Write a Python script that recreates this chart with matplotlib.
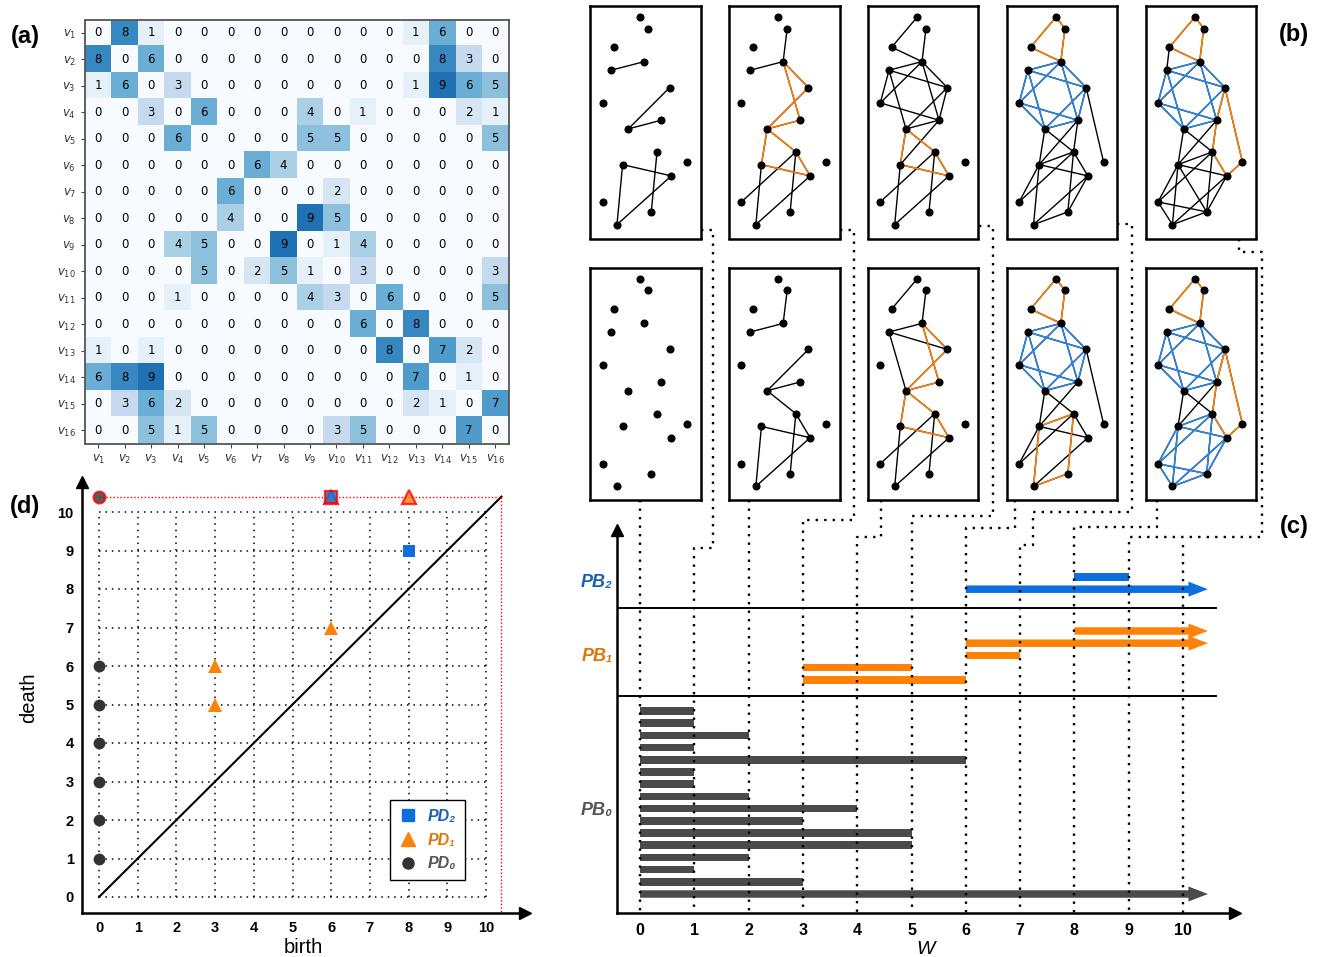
import numpy as np
import matplotlib.pyplot as plt
from matplotlib.lines import Line2D
from matplotlib.patches import FancyArrow

FIG_W, FIG_H = 1323, 957
SANS = "Liberation Sans"

# weighted adjacency matrix of the network
weights = np.array([
    [0, 8, 1, 0, 0, 0, 0, 0, 0, 0, 0, 0, 1, 6, 0, 0],
    [8, 0, 6, 0, 0, 0, 0, 0, 0, 0, 0, 0, 0, 8, 3, 0],
    [1, 6, 0, 3, 0, 0, 0, 0, 0, 0, 0, 0, 1, 9, 6, 5],
    [0, 0, 3, 0, 6, 0, 0, 0, 4, 0, 1, 0, 0, 0, 2, 1],
    [0, 0, 0, 6, 0, 0, 0, 0, 5, 5, 0, 0, 0, 0, 0, 5],
    [0, 0, 0, 0, 0, 0, 6, 4, 0, 0, 0, 0, 0, 0, 0, 0],
    [0, 0, 0, 0, 0, 6, 0, 0, 0, 2, 0, 0, 0, 0, 0, 0],
    [0, 0, 0, 0, 0, 4, 0, 0, 9, 5, 0, 0, 0, 0, 0, 0],
    [0, 0, 0, 4, 5, 0, 0, 9, 0, 1, 4, 0, 0, 0, 0, 0],
    [0, 0, 0, 0, 5, 0, 2, 5, 1, 0, 3, 0, 0, 0, 0, 3],
    [0, 0, 0, 1, 0, 0, 0, 0, 4, 3, 0, 6, 0, 0, 0, 5],
    [0, 0, 0, 0, 0, 0, 0, 0, 0, 0, 6, 0, 8, 0, 0, 0],
    [1, 0, 1, 0, 0, 0, 0, 0, 0, 0, 0, 8, 0, 7, 2, 0],
    [6, 8, 9, 0, 0, 0, 0, 0, 0, 0, 0, 0, 7, 0, 1, 0],
    [0, 3, 6, 2, 0, 0, 0, 0, 0, 0, 0, 0, 2, 1, 0, 7],
    [0, 0, 5, 1, 5, 0, 0, 0, 0, 3, 5, 0, 0, 0, 7, 0],
])
vertex_labels = [r"$v_{%d}$" % (i + 1) for i in range(16)]

# node layout inside a snapshot box (box units, y grows downward), v1..v16
node_x = [26.7, 12.3, 32.3, 38.0, 12.3, 49.3, 58.0, 23.7, 21.0, 54.0, 79.3, 96.7, 81.0, 61.0, 66.7, 71.0]
node_y = [218.7, 196.0, 158.7, 123.0, 97.0, 11.0, 22.7, 41.3, 64.3, 55.7, 81.7, 156.0, 170.0, 206.0, 146.0, 114.3]

# filtration value of every snapshot box
top_levels = [1, 3, 5, 7, 9]
bottom_levels = [0, 2, 4, 6, 8]

# representative 1-cycles (vertex loops) and 2-cycles (vertex sets), 1-based
upper_oct = [4, 5, 9, 10, 11, 16]
lower_oct = [1, 2, 3, 13, 14, 15]
cycles_1 = {
    3: [[10, 11, 4, 16], [4, 3, 13, 15]],
    4: [[10, 11, 4, 16], [4, 3, 13, 15]],
    5: [[4, 3, 13, 15]],
    6: [[6, 7, 10, 8], [3, 15, 14, 1]],
    7: [[6, 7, 10, 8]],
    8: [[6, 7, 10, 8], [11, 12, 13, 15, 16]],
    9: [[6, 7, 10, 8], [11, 12, 13, 15, 16]],
}
cycles_2 = {6: [upper_oct], 7: [upper_oct], 8: [upper_oct, lower_oct], 9: [upper_oct]}

# persistence barcodes (top to bottom)
pb0_birth = [0] * 16
pb0_death = [1, 1, 2, 1, 6, 1, 1, 2, 4, 3, 5, 5, 2, 1, 3, np.inf]
pb1_birth = [8, 6, 6, 3, 3]
pb1_death = [np.inf, np.inf, 7, 5, 6]
pb2_birth = [8, 6]
pb2_death = [9, np.inf]

BLUE = "#0d6fde"
BLUE_EDGE = "#2a86e8"
ORANGE = "#ff8208"
GRAY = "#4a4a4a"
DARK = "#333333"
BLUE_TXT = "#1a5fb4"
ORANGE_TXT = "#e0760a"
GRAY_TXT = "#555555"

fig = plt.figure(figsize=(FIG_W / 100, FIG_H / 100), dpi=100)


def px_axes(left, top, right, bottom, **kw):
    return fig.add_axes([left / FIG_W, 1 - bottom / FIG_H,
                         (right - left) / FIG_W, (bottom - top) / FIG_H], **kw)


# ---------------- (a) adjacency heatmap ----------------
ax_a = px_axes(85, 19.5, 508.5, 443.5)
ax_a.imshow(weights, cmap="Blues", vmin=0, vmax=12, aspect="auto")
for i in range(16):
    for j in range(16):
        ax_a.text(j, i, str(weights[i, j]), ha="center", va="center", fontsize=8.5)
ax_a.set_xticks(range(16))
ax_a.set_yticks(range(16))
ax_a.set_xticklabels(vertex_labels, fontsize=8.5, color="#333333")
ax_a.set_yticklabels(vertex_labels, fontsize=8.5, color="#333333")
ax_a.tick_params(length=3, color="#444444")
for s in ax_a.spines.values():
    s.set_color("#555555")
    s.set_linewidth(1.3)

# ---------------- (b) filtration snapshots ----------------
BOX_W, BOX_H = 110.4, 232.6


def draw_snapshot(ax, level):
    n = len(node_x)
    for i in range(n):
        for j in range(i + 1, n):
            if 0 < weights[i, j] <= level:
                ax.plot([node_x[i], node_x[j]], [node_y[i], node_y[j]], color="k", lw=1.0, zorder=1)
    for group in cycles_2.get(level, []):
        for a in group:
            for b in group:
                if a < b and 0 < weights[a - 1, b - 1] <= level:
                    ax.plot([node_x[a - 1], node_x[b - 1]], [node_y[a - 1], node_y[b - 1]],
                            color=BLUE_EDGE, lw=1.1, zorder=2)
    for loop in cycles_1.get(level, []):
        for a, b in zip(loop, loop[1:] + loop[:1]):
            ax.plot([node_x[a - 1], node_x[b - 1]], [node_y[a - 1], node_y[b - 1]],
                    color=ORANGE, lw=1.1, zorder=3)
    ax.plot(node_x, node_y, "o", color="k", ms=4.8, zorder=4)
    ax.set_xlim(0, BOX_W)
    ax.set_ylim(BOX_H, 0)
    ax.set_xticks([])
    ax.set_yticks([])
    for s in ax.spines.values():
        s.set_linewidth(1.8)


for k, (lt, lb) in enumerate(zip(top_levels, bottom_levels)):
    left = 590.3 + k * 138.85
    draw_snapshot(px_axes(left, 5.9, left + BOX_W, 5.9 + BOX_H), lt)
    draw_snapshot(px_axes(left, 267.7, left + BOX_W, 267.7 + BOX_H), lb)

# ---------------- (c) persistence barcode ----------------
X_UNIT = 54.3
ax_c = px_axes(617, 530, 1235, 913)
ax_c.patch.set_alpha(0)
ax_c.set_xlim(-23 / X_UNIT, 595 / X_UNIT)
ax_c.set_ylim(0, 383)
INF_END = 10.46
ROW = 12.2


def draw_bar(ax, b, d, y, color):
    if np.isinf(d):
        ax.add_patch(FancyArrow(b, y, INF_END - b, 0, width=7.5, head_width=15, head_length=0.36,
                                length_includes_head=True, color=color, lw=0, zorder=3))
    else:
        ax.barh(y, d - b, left=b, height=7.5, color=color, zorder=3)


for k, (b, d) in enumerate(zip(pb0_birth, pb0_death)):
    draw_bar(ax_c, b, d, 202 - k * ROW, GRAY)
for k, (b, d) in enumerate(zip(pb1_birth, pb1_death)):
    draw_bar(ax_c, b, d, 282 - k * ROW, ORANGE)
for k, (b, d) in enumerate(zip(pb2_birth, pb2_death)):
    draw_bar(ax_c, b, d, 336 - k * ROW, BLUE)

x_lo = ax_c.get_xlim()[0]
for yy in (305, 217):
    ax_c.plot([x_lo, 10.61], [yy, yy], color="k", lw=1.4, zorder=2)

for txt, yy, col in (("PB₂", 331, BLUE_TXT), ("PB₁", 257, ORANGE_TXT), ("PB₀", 103, GRAY_TXT)):
    ax_c.text(-0.5, yy, txt, ha="right", va="center", fontsize=13, fontweight="bold",
              fontstyle="italic", color=col, family=SANS, clip_on=False)

for side in ("top", "right"):
    ax_c.spines[side].set_visible(False)
for side in ("left", "bottom"):
    ax_c.spines[side].set_linewidth(1.8)
ax_c.plot(1, 0, ">k", ms=9, transform=ax_c.transAxes, clip_on=False)
ax_c.plot(0, 1, "^k", ms=9, transform=ax_c.transAxes, clip_on=False)
ax_c.set_xticks(range(11))
ax_c.set_xticklabels([str(v) for v in range(11)], fontsize=11.5, fontweight="bold", family=SANS)
ax_c.set_yticks([])
ax_c.tick_params(axis="x", length=0, pad=7)
ax_c.set_xlabel("W", fontsize=14, fontstyle="italic", family=SANS, labelpad=2)

# ---------------- (d) persistence diagram ----------------
P_UNIT_X, P_UNIT_Y = 38.7, 38.5
INF_VAL = 10.4
ax_d = px_axes(82, 482, 525, 913)
ax_d.set_xlim(-17 / P_UNIT_X, 426 / P_UNIT_X)
ax_d.set_ylim(-16 / P_UNIT_Y, 415 / P_UNIT_Y)
grid_vals = list(range(11))
ax_d.vlines(grid_vals, 0, 10, colors="k", linestyles=(0, (1, 3.2)), lw=1.1, zorder=1)
ax_d.hlines(grid_vals, 0, 10, colors="k", linestyles=(0, (1, 3.2)), lw=1.1, zorder=1)
ax_d.plot([0, INF_VAL], [0, INF_VAL], color="k", lw=1.5, zorder=2)
ax_d.plot([0, INF_VAL], [INF_VAL, INF_VAL], color="red", ls=(0, (1, 1.5)), lw=1.0, zorder=2)
ax_d.plot([INF_VAL, INF_VAL], [INF_VAL, ax_d.get_ylim()[0]], color="red", ls=(0, (1, 1.5)),
          lw=1.0, zorder=2)


def diagram_points(births, deaths):
    pts = sorted(set(zip(births, deaths)))
    fin = [(b, d) for b, d in pts if np.isfinite(d)]
    inf = [(b, INF_VAL) for b, d in pts if not np.isfinite(d)]
    return fin, inf


for births, deaths, mk, ms, col in ((pb0_birth, pb0_death, "o", 8.5, DARK),
                                    (pb1_birth, pb1_death, "^", 10, ORANGE),
                                    (pb2_birth, pb2_death, "s", 8, BLUE)):
    fin, inf = diagram_points(births, deaths)
    if fin:
        ax_d.plot([p[0] for p in fin], [p[1] for p in fin], mk, color=col, ms=ms, mew=0, zorder=4)
    if inf:
        ax_d.plot([p[0] for p in inf], [p[1] for p in inf], mk, color=col, ms=ms, mec="red",
                  mew=1.6, alpha=0.8, zorder=5, clip_on=False)

for side in ("top", "right"):
    ax_d.spines[side].set_visible(False)
for side in ("left", "bottom"):
    ax_d.spines[side].set_linewidth(1.8)
ax_d.plot(1, 0, ">k", ms=8, transform=ax_d.transAxes, clip_on=False)
ax_d.plot(0, 1, "^k", ms=8, transform=ax_d.transAxes, clip_on=False)
ax_d.set_xticks(grid_vals)
ax_d.set_yticks(grid_vals)
ax_d.set_xticklabels([str(v) for v in grid_vals], fontsize=10.5, fontweight="bold", family=SANS)
ax_d.set_yticklabels([str(v) for v in grid_vals], fontsize=10.5, fontweight="bold", family=SANS)
ax_d.tick_params(length=0, pad=6)
ax_d.set_xlabel("birth", fontsize=14.5, family=SANS, labelpad=2)
ax_d.set_ylabel("death", fontsize=14.5, family=SANS, labelpad=14)

handles = [Line2D([], [], ls="", marker="s", color=BLUE, ms=8),
           Line2D([], [], ls="", marker="^", color=ORANGE, ms=10),
           Line2D([], [], ls="", marker="o", color=DARK, ms=8)]
leg = ax_d.legend(handles, ["PD₂", "PD₁", "PD₀"], loc="upper left", bbox_to_anchor=(0.696, 0.262),
                  borderaxespad=0, fancybox=False, framealpha=1, edgecolor="k", handlelength=1.1,
                  handletextpad=0.7, labelspacing=0.55, borderpad=0.55,
                  prop={"family": SANS, "weight": "bold", "style": "italic", "size": 11.5})
leg.get_frame().set_linewidth(1.0)
for t, c in zip(leg.get_texts(), (BLUE_TXT, ORANGE_TXT, GRAY_TXT)):
    t.set_color(c)

# ---------------- connectors and panel letters ----------------
ov = fig.add_axes([0, 0, 1, 1], zorder=5)
ov.set_xlim(0, FIG_W)
ov.set_ylim(FIG_H, 0)
ov.set_axis_off()


def xw(w):
    return ax_c.transData.transform((w, 0))[0]


routes = {
    0: [(xw(0), 500)],
    1: [(700.7, 230), (713, 230), (713, 548), (xw(1), 548)],
    2: [(xw(2), 500)],
    3: [(839.7, 230), (854, 230), (854, 520), (xw(3), 520)],
    4: [(881, 500), (881, 537), (xw(4), 537)],
    5: [(978.7, 226), (993, 226), (993, 516), (xw(5), 516)],
    6: [(1015, 500), (1015, 528), (xw(6), 528)],
    7: [(1117.3, 224), (1132, 224), (1132, 512), (1033, 512), (1033, 545), (xw(7), 545)],
    8: [(1157, 500), (1157, 527), (xw(8), 527)],
    9: [(1239, 239), (1239, 252), (1262, 252), (1262, 537), (xw(9), 537)],
    10: [(xw(10), 545)],
}
for w, pts in routes.items():
    pts = pts + [(xw(w), 913)]
    ov.plot([p[0] for p in pts], [p[1] for p in pts], color="k", lw=1.7,
            ls=(0, (1, 2.6)), dash_capstyle="butt")

for txt, x, y in (("(a)", 25, 37), ("(b)", 1294, 35), ("(c)", 1294, 527), ("(d)", 25, 507)):
    ov.text(x, y, txt, ha="center", va="center", fontsize=17, fontweight="bold", family=SANS)

fig.savefig("out.png", dpi=100)
